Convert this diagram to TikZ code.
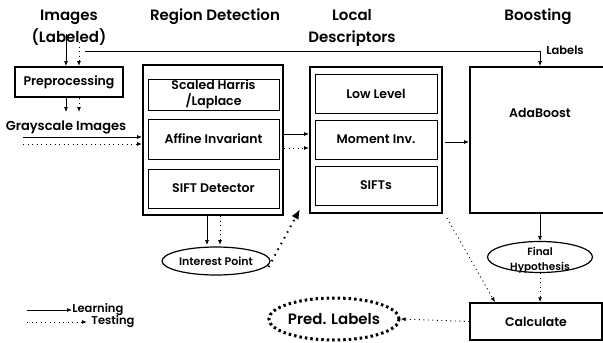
\documentclass[tikz,border=0pt]{standalone}
\usepackage{fontspec}
\setmainfont{Poppins}[BoldFont={Poppins SemiBold}]
\usetikzlibrary{arrows.meta,shapes.geometric}

\tikzset{
  title/.style={font=\fontsize{15}{22}\selectfont\bfseries, align=center, inner sep=0pt},
  outerbox/.style={draw, line width=2pt, inner sep=0pt},
  innerbox/.style={draw, line width=0.8pt, inner sep=0pt, font=\fontsize{12.5}{15}\selectfont\bfseries, align=center},
  smalltext/.style={font=\fontsize{11.5}{13}\selectfont\bfseries, inner sep=0pt, align=center},
  learn/.style={line width=0.7pt, -{Latex[length=5pt,width=4pt]}},
  testarrow/.style={line width=0.9pt, dash pattern=on 1pt off 3.5pt, -{Latex[length=5pt,width=4pt]}},
  bigdots/.style={line width=2pt, dash pattern=on 1.5pt off 5pt, -{Latex[length=10pt,width=8pt]}},
  oval/.style={ellipse, draw, line width=1.2pt, inner sep=0pt},
}

\begin{document}
\begin{tikzpicture}[x=1pt, y=-1pt]
\useasboundingbox (0,0) rectangle (603,343);

% column titles
\node[title] (tImg) at (69,28) {Images\\(Labeled)};
\node[title] (tReg) at (215,17) {Region Detection};
\node[title] (tLoc) at (352,28) {Local\\Descriptors};
\node[title] (tBoost) at (538,17) {Boosting};

% preprocessing
\node[outerbox, minimum width=108pt, minimum height=30pt, font=\fontsize{12.5}{15}\selectfont\bfseries] (prep) at (69,82) {Preprocessing};
\node[smalltext, font=\fontsize{13}{15}\selectfont\bfseries] (gray) at (66,127) {Grayscale Images};

% region detection
\node[outerbox, minimum width=140pt, minimum height=150pt] (reg) at (213,140) {};
\node[innerbox, minimum width=131pt, minimum height=31pt, font=\fontsize{12.5}{16}\selectfont\bfseries] (harris) at (213.5,94.5) {Scaled Harris\\/Laplace};
\node[innerbox, minimum width=131pt, minimum height=40pt] (affine) at (213.5,139) {Affine Invariant};
\node[innerbox, minimum width=131pt, minimum height=39pt] (sift) at (213.5,188.5) {SIFT Detector};

% local descriptors
\node[outerbox, minimum width=132pt, minimum height=146pt] (loc) at (376,140) {};
\node[innerbox, minimum width=122pt, minimum height=39pt] (low) at (376,93.5) {Low Level};
\node[innerbox, minimum width=122pt, minimum height=39pt] (moment) at (376,139.5) {Moment Inv.};
\node[innerbox, minimum width=122pt, minimum height=39pt] (sifts) at (376,185.5) {SIFTs};

% boosting
\node[outerbox, minimum width=150pt, minimum height=146pt] (ada) at (545,140) {};
\node[innerbox, draw=none] (adatext) at (540,113) {AdaBoost};
\node[smalltext] (labels) at (565,50) {Labels};

% ellipses and output
\node[oval, minimum width=108pt, minimum height=28pt, font=\fontsize{11}{13}\selectfont\bfseries] (interest) at (216,261) {Interest Point};
\node[oval, minimum width=105pt, minimum height=31pt] (final) at (540,257) {};
\node[font=\fontsize{10.5}{15}\selectfont\bfseries, align=center, inner sep=0pt] (finaltext) at (540,260) {Final\\Hypothesis};
\node[draw, line width=1.5pt, minimum width=132pt, minimum height=37pt, font=\fontsize{12.5}{15}\selectfont\bfseries] (calc) at (536,321.5) {Calculate};
\node[ellipse, draw, line width=3pt, dash pattern=on 2.5pt off 3pt, minimum width=126pt, minimum height=42pt, inner sep=0pt, font=\fontsize{15}{17}\selectfont\bfseries] (pred) at (334,319) {Pred. Labels};

% helper points
\coordinate (imgL) at (66,34);
\coordinate (imgT) at (79,42);
\coordinate (labStart) at (85,51);
\coordinate (labCorner) at (540,51);
\coordinate (grayL) at (23,137);
\coordinate (grayT) at (23,144);
\coordinate (grayLe) at (66,112);
\coordinate (grayTe) at (79,112);

% images -> preprocessing -> grayscale
\draw[learn] (imgL) -- (imgL |- prep.north);
\draw[testarrow] (imgT) -- (imgT |- prep.north);
\draw[learn] (prep.south -| imgL) -- (grayLe);
\draw[testarrow] (prep.south -| imgT) -- (grayTe);

% labels line into boosting
\draw[learn] (labStart) -- (labCorner) -- (labCorner |- ada.north);

% grayscale -> region detection
\draw[learn] (grayL) -- (grayL -| reg.west);
\draw[testarrow] (grayT) -- (grayT -| reg.west);

% region detection -> local descriptors
\draw[learn] (reg.east |- 0,134) -- (loc.west |- 0,134);
\draw[testarrow] (reg.east |- 0,148) -- (loc.west |- 0,148);

% local descriptors -> adaboost
\draw[learn] ([xshift=2pt]loc.east |- 0,142) -- (ada.west |- 0,142);

% region detection -> interest point
\draw[learn] (reg.south -| 207,0) -- (207,245);
\draw[testarrow] (reg.south -| 220,0) -- (220,245);

% interest point -> local descriptors
\draw[bigdots] ([xshift=-2pt,yshift=-6pt]interest.east) -- (300,209);

% adaboost -> final hypothesis -> calculate
\draw[learn] (ada.south -| final.north) -- (final.north);
\draw[testarrow] (final.south) -- (calc.north -| final.south);

% local descriptors -> calculate
\draw[testarrow] (447,218) -- (calc.north -| 495,0);

% calculate -> predicted labels
\draw[testarrow] (calc.west) -- (pred.east);

% legend
\coordinate (legL) at (27,310);
\coordinate (legT) at (27,322);
\draw[learn] (legL) -- (72,310) node[smalltext, anchor=west] (learnlbl) {Learning};
\draw[testarrow] (legT) -- (87,322) node[smalltext, anchor=west, xshift=4pt] (testlbl) {Testing};
\end{tikzpicture}
\end{document}
